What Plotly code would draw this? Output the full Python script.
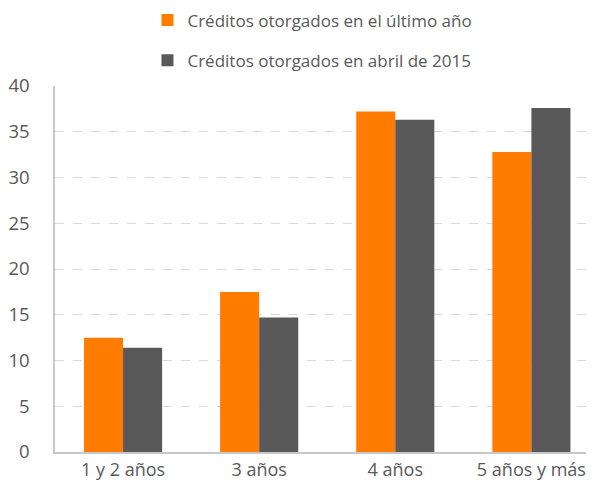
import plotly.graph_objects as go

categories = ['1 y 2 años', '3 años', '4 años', '5 años y más']
ultimo_anio = [12.5, 17.5, 37.2, 32.8]
abril_2015 = [11.4, 14.7, 36.3, 37.6]
y_ticks = [0, 5, 10, 15, 20, 25, 30, 35, 40]

font_family = 'Open Sans, Noto Sans, sans-serif'
text_gray = '#595959'

fig = go.Figure()
fig.add_trace(go.Bar(
    x=categories, y=ultimo_anio,
    name='Créditos otorgados en el último año',
    marker=dict(color='#FF7C00', line=dict(width=0)),
    legendgroup='a',
))
fig.add_trace(go.Bar(
    x=categories, y=abril_2015,
    name='Créditos otorgados en abril de 2015',
    marker=dict(color='#595959', line=dict(width=0)),
    legendgroup='b',
))

# the page body adds an 8px offset, so the figure is a bit smaller than the window
fig.update_layout(
    width=586, height=488,
    margin=dict(l=47, r=0, t=78, b=44, autoexpand=False),
    paper_bgcolor='white', plot_bgcolor='white',
    barmode='group', bargap=0.426, bargroupgap=0,
    font=dict(family=font_family, color=text_gray, size=18),
    legend=dict(
        orientation='v', xref='container', yref='paper',
        x=0.238, xanchor='left', y=1.228, yanchor='top',
        font=dict(size=17, color=text_gray),
        tracegroupgap=15, traceorder='grouped',
    ),
    xaxis=dict(
        range=[-0.5, 3.46],
        showline=True, linecolor='#C8C8C8', linewidth=2,
        ticks='', showgrid=False, tickangle=0,
        tickfont=dict(size=18, color=text_gray),
    ),
    yaxis=dict(
        range=[0, 40], tickvals=y_ticks,
        showline=True, linecolor='#C8C8C8', linewidth=1.5,
        showgrid=True, gridcolor='#D9D9D9', griddash='dash', gridwidth=1,
        zeroline=False, ticks='', ticklabelstandoff=20,
        tickfont=dict(size=18.5, color=text_gray),
    ),
)

fig.write_html('out.html')
